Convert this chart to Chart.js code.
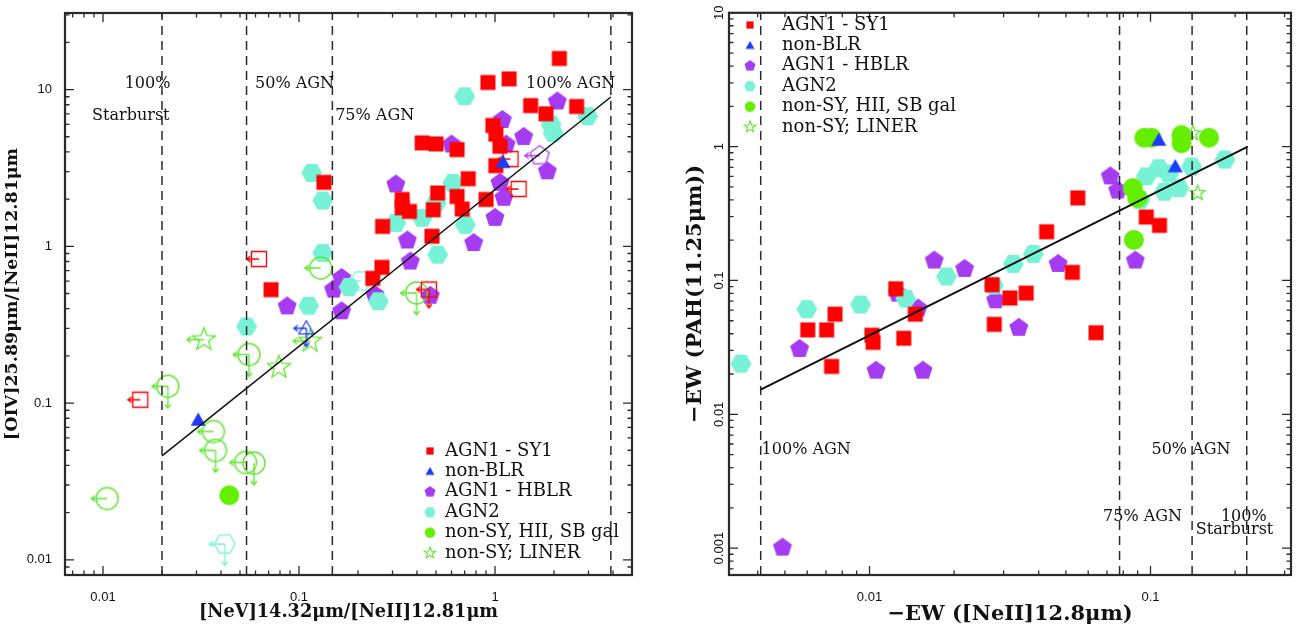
<!DOCTYPE html>
<html>
<head>
<meta charset="utf-8">
<script src="https://cdn.jsdelivr.net/npm/chart.js@4.4.1/dist/chart.umd.min.js"></script>
<style>
  html, body { margin: 0; padding: 0; background: #fff; }
  #wrap { position: relative; width: 1300px; height: 628px; }
  canvas { position: absolute; top: 0; }
  #c1 { left: 0; }
  #c2 { left: 650px; }
</style>
</head>
<body>
<div id="wrap">
  <canvas id="c1" width="650" height="628"></canvas>
  <canvas id="c2" width="650" height="628"></canvas>
</div>
<script>
// ---- tick labels ----
const leftXTicks = [0.01, 0.1, 1];
const leftYTicks = [0.01, 0.1, 1, 10];
const rightXTicks = [0.01, 0.1];
const rightYTicks = [0.001, 0.01, 0.1, 1, 10];

const legendLabels = ['AGN1 - SY1', 'non-BLR', 'AGN1 - HBLR', 'AGN2', 'non-SY, HII, SB gal', 'non-SY; LINER'];

// ---- left panel: [NeV]/[NeII] vs [OIV]/[NeII] ----
const lSy1X = [2.13, 0.92, 1.18, 1.52, 1.82, 2.61, 0.975, 1.01, 1.06, 1.01, 0.425, 0.50, 0.64, 0.73, 0.51, 0.64, 0.90, 0.336, 0.336, 0.366, 0.484, 0.68, 0.267, 0.477, 0.134, 0.265, 0.238, 0.072];
const lSy1Y = [15.8, 11.1, 11.7, 7.9, 7.0, 7.8, 5.9, 5.2, 4.35, 3.27, 4.57, 4.5, 4.14, 2.70, 2.19, 2.08, 1.99, 1.99, 1.76, 1.67, 1.71, 1.73, 1.34, 1.16, 2.56, 0.734, 0.625, 0.529];
const lSy1LimX = [1.32, 1.2, 0.0625, 0.46, 0.0155];
const lSy1LimY = [2.32, 3.6, 0.83, 0.53, 0.105];
const lSy1Lim = ['L', 'L', 'L', 'LD', 'L'];

const lBlrX = [1.10, 0.0306];
const lBlrY = [3.44, 0.078];
const lBlrLimX = [0.109];
const lBlrLimY = [0.30];
const lBlrLim = ['LD'];

const lHblrX = [2.08, 1.09, 1.40, 1.14, 0.60, 1.85, 0.312, 1.06, 1.11, 1.0, 0.357, 0.778, 0.37, 0.165, 0.244, 0.468, 0.087, 0.165, 0.15];
const lHblrY = [8.4, 6.4, 4.99, 4.46, 4.46, 3.01, 2.48, 2.54, 2.04, 1.52, 1.09, 1.05, 0.80, 0.628, 0.49, 0.484, 0.414, 0.385, 0.53];
const lHblrLimX = [1.69];
const lHblrLimY = [3.79];
const lHblrLim = ['L'];

const lAgn2X = [0.70, 2.97, 1.93, 1.98, 0.116, 0.132, 0.61, 0.50, 0.312, 0.425, 0.706, 0.51, 0.132, 0.18, 0.112, 0.254, 0.054];
const lAgn2Y = [9.06, 6.76, 5.98, 5.29, 2.94, 1.96, 2.54, 1.89, 1.41, 1.52, 1.37, 0.885, 0.906, 0.55, 0.418, 0.446, 0.308];
const lAgn2LimX = [0.206, 0.0418];
const lAgn2LimY = [0.60, 0.0126];
const lAgn2Lim = ['L', 'LD'];

const lHiiX = [0.0441];
const lHiiY = [0.0258];
const lHiiLimX = [0.129, 0.398, 0.0556, 0.0214, 0.0366, 0.0375, 0.0534, 0.0589, 0.0105];
const lHiiLimY = [0.727, 0.504, 0.204, 0.128, 0.0659, 0.0499, 0.0418, 0.0414, 0.0246];
const lHiiLim = ['L', 'LD', 'LD', 'LD', 'L', 'LD', 'L', 'D', 'L'];

const lLinerX = [0.0327, 0.079, 0.114];
const lLinerY = [0.254, 0.169, 0.248];
const lLinerLim = ['L', '', 'L'];

const lFitX = [0.02, 3.9];
const lFitY = [0.046, 8.97];
const lDashX = [0.02, 0.054, 0.148, 3.9];

// ---- right panel: -EW([NeII]) vs -EW(PAH 11.25) ----
const rSy1X = [0.0551, 0.0427, 0.0966, 0.1076, 0.0527, 0.0273, 0.0316, 0.0361, 0.0124, 0.00754, 0.01455, 0.0278, 0.00603, 0.00704, 0.0102, 0.0103, 0.01324, 0.00733, 0.064];
const rSy1Y = [0.414, 0.231, 0.298, 0.258, 0.115, 0.0929, 0.074, 0.0805, 0.0867, 0.056, 0.056, 0.047, 0.0427, 0.0427, 0.039, 0.0345, 0.037, 0.0228, 0.0407];

const rBlrX = [0.107, 0.1225];
const rBlrY = [1.12, 0.71];

const rHblrX = [0.0719, 0.0764, 0.0883, 0.0469, 0.0218, 0.0170, 0.01259, 0.0149, 0.0281, 0.034, 0.00564, 0.01055, 0.0155, 0.0049];
const rHblrY = [0.6, 0.47, 0.141, 0.133, 0.122, 0.141, 0.0797, 0.0617, 0.0711, 0.0443, 0.0308, 0.0212, 0.0212, 0.00101];

const rAgn2X = [0.184, 0.14, 0.107, 0.0966, 0.112, 0.126, 0.0918, 0.116, 0.0383, 0.0325, 0.0188, 0.01346, 0.00929, 0.00598, 0.0276, 0.00349];
const rAgn2Y = [0.80, 0.71, 0.69, 0.60, 0.46, 0.49, 0.40, 0.63, 0.158, 0.133, 0.107, 0.0731, 0.066, 0.061, 0.0918, 0.0239];

const rHiiX = [0.1009, 0.095, 0.1288, 0.129, 0.1615, 0.0865, 0.0897, 0.0873];
const rHiiY = [1.166, 1.166, 1.22, 1.06, 1.166, 0.49, 0.414, 0.201];

const rLinerX = [0.1415, 0.147];
const rLinerY = [1.26, 0.45];

const rFitX = [0.0041, 0.222];
const rFitY = [0.0153, 1.0];
const rDashX = [0.0041, 0.0776, 0.1406, 0.22];

// ---- colours ----
const RED = '#ff0000', BLUE = '#1e3cf5', PURPLE = '#a63cf2', CYAN = '#78f2d6', GREEN = '#64ee00', LGREEN = '#62e632';

// ---- marker images ----
function shapePath(g, shape, cx, cy, r) {
  g.beginPath();
  if (shape === 'square') {
    g.rect(cx - r, cy - r, 2 * r, 2 * r);
  } else if (shape === 'circle') {
    g.arc(cx, cy, r, 0, Math.PI * 2);
  } else if (shape === 'triangle') {
    g.moveTo(cx, cy - r);
    g.lineTo(cx + r, cy + r * 0.75);
    g.lineTo(cx - r, cy + r * 0.75);
    g.closePath();
  } else {
    const n = shape === 'pentagon' ? 5 : shape === 'hexagon' ? 6 : 10;
    const a0 = shape === 'hexagon' ? 0 : -Math.PI / 2;
    for (let k = 0; k < n; k++) {
      const a = a0 + k * 2 * Math.PI / n;
      const rr = shape === 'star' && k % 2 ? r * 0.42 : r;
      const px = cx + rr * Math.cos(a), py = cy + rr * Math.sin(a);
      k ? g.lineTo(px, py) : g.moveTo(px, py);
    }
    g.closePath();
  }
}

const markerCache = {};
function marker(s) {
  const key = JSON.stringify(s);
  if (markerCache[key]) return markerCache[key];
  const L = s.left ? s.r + 5 : 0, D = s.down ? s.r + 11 : 0;
  const ext = Math.ceil(Math.max(s.r, L, D) + 3);
  const cv = document.createElement('canvas');
  cv.width = cv.height = ext * 2;
  const g = cv.getContext('2d');
  const c = ext;
  shapePath(g, s.shape, c, c, s.r);
  if (s.fill) { g.fillStyle = s.fill; g.fill(); }
  if (s.stroke) { g.strokeStyle = s.stroke; g.lineWidth = s.lw || 1.3; g.stroke(); }
  g.strokeStyle = s.stroke || s.fill;
  g.lineWidth = 1.3;
  if (L) {
    g.beginPath();
    g.moveTo(c, c); g.lineTo(c - L, c);
    g.moveTo(c - L + 4, c - 3); g.lineTo(c - L, c); g.lineTo(c - L + 4, c + 3);
    g.stroke();
  }
  if (D) {
    g.beginPath();
    g.moveTo(c, c); g.lineTo(c, c + D);
    g.moveTo(c - 3, c + D - 4); g.lineTo(c, c + D); g.lineTo(c + 3, c + D - 4);
    g.stroke();
  }
  markerCache[key] = cv;
  return cv;
}

const SPEC = {
  sy1: { shape: 'square', r: 7.5, fill: RED },
  sy1o: { shape: 'square', r: 7.5, stroke: RED, lw: 1.3 },
  blr: { shape: 'triangle', r: 7.5, fill: BLUE },
  blro: { shape: 'triangle', r: 7.5, stroke: BLUE, lw: 1.2 },
  hblr: { shape: 'pentagon', r: 10, fill: PURPLE },
  hblro: { shape: 'pentagon', r: 10, stroke: PURPLE, lw: 1.2 },
  agn2: { shape: 'hexagon', r: 10.5, fill: CYAN },
  agn2o: { shape: 'hexagon', r: 10.5, stroke: CYAN, lw: 1.3 },
  hii: { shape: 'circle', r: 10, fill: GREEN },
  hiio: { shape: 'circle', r: 11, stroke: LGREEN, lw: 1.4 },
  liner: { shape: 'star', r: 12, stroke: LGREEN, lw: 1.3 }
};
const legendSpecs = [
  { shape: 'square', r: 3.6, fill: RED },
  { shape: 'triangle', r: 4.5, fill: BLUE },
  { shape: 'pentagon', r: 5.8, fill: PURPLE },
  { shape: 'hexagon', r: 5.8, fill: CYAN },
  { shape: 'circle', r: 5.2, fill: GREEN },
  { shape: 'star', r: 6, stroke: LGREEN, lw: 1.1 }
];

function withLim(spec, lim) {
  return Object.assign({}, spec, { left: lim.includes('L'), down: lim.includes('D') });
}

const pts = (xs, ys) => xs.map((x, i) => ({ x, y: ys[i] }));

function markSet(xs, ys, spec, lims) {
  return {
    data: pts(xs, ys),
    pointStyle: lims ? lims.map(l => marker(withLim(spec, l))) : marker(spec),
    pointRadius: 8,
    showLine: false
  };
}
function lineSet(xs, ys, width) {
  return { data: pts(xs, ys), showLine: true, borderColor: '#111', borderWidth: width, pointRadius: 0, fill: false };
}
function dashSets(xs, ymin, ymax) {
  return xs.map(v => ({
    data: [{ x: v, y: ymin }, { x: v, y: ymax }],
    showLine: true, borderColor: '#2a2a2a', borderWidth: 1.5, borderDash: [9, 6], pointRadius: 0, fill: false
  }));
}

// ---- axis helpers ----
function logTicks(scale) {
  const lo = Math.floor(Math.log10(scale.min)), hi = Math.ceil(Math.log10(scale.max));
  const t = [];
  for (let e = lo; e <= hi; e++) {
    for (let m = 1; m <= 9; m++) {
      const v = m * Math.pow(10, e);
      if (v >= scale.min * 0.999 && v <= scale.max * 1.001) t.push({ value: v, major: m === 1 });
    }
  }
  scale.ticks = t;
}
function labeler(list) {
  return v => {
    const hit = list.find(t => Math.abs(Math.log10(t) - Math.log10(v)) < 1e-6);
    return hit === undefined ? '' : String(hit);
  };
}
const isDecade = v => Math.abs(Math.log10(v) - Math.round(Math.log10(v))) < 1e-6;

// ---- decorations: inward ticks, frame, rotated labels, notes, legend ----
const deco = {
  id: 'deco',
  afterDraw(chart, args, o) {
    const { ctx, chartArea: a, scales: { x, y } } = chart;
    ctx.save();
    ctx.strokeStyle = '#2a2a2a';
    ctx.lineWidth = 1.3;
    ctx.beginPath();
    x.ticks.forEach(t => {
      const p = x.getPixelForValue(t.value);
      if (p < a.left - 0.5 || p > a.right + 0.5) return;
      const len = isDecade(t.value) ? 9 : 4.5;
      ctx.moveTo(p, a.bottom); ctx.lineTo(p, a.bottom - len);
      ctx.moveTo(p, a.top); ctx.lineTo(p, a.top + len);
    });
    y.ticks.forEach(t => {
      const p = y.getPixelForValue(t.value);
      if (p < a.top - 0.5 || p > a.bottom + 0.5) return;
      const len = isDecade(t.value) ? 9 : 4.5;
      ctx.moveTo(a.left, p); ctx.lineTo(a.left + len, p);
      ctx.moveTo(a.right, p); ctx.lineTo(a.right - len, p);
    });
    ctx.stroke();
    ctx.lineWidth = 2.2;
    ctx.strokeRect(a.left, a.top, a.right - a.left, a.bottom - a.top);

    ctx.fillStyle = '#111';
    if (o.rotY) {
      ctx.font = '13px "Liberation Sans"';
      ctx.textAlign = 'center';
      ctx.textBaseline = 'middle';
      o.rotY.forEach(v => {
        ctx.save();
        ctx.translate(o.rotYx, y.getPixelForValue(v));
        ctx.rotate(-Math.PI / 2);
        ctx.fillText(String(v), 0, 0);
        ctx.restore();
      });
    }

    ctx.font = '16px "DejaVu Serif"';
    ctx.textAlign = 'left';
    ctx.textBaseline = 'middle';
    o.notes.forEach(n => ctx.fillText(n.t, x.getPixelForValue(n.x), y.getPixelForValue(n.y)));

    const lg = o.legend;
    ctx.font = '18px "DejaVu Serif"';
    legendLabels.forEach((label, i) => {
      const yy = lg.y0 + i * lg.dy;
      const m = marker(legendSpecs[i]);
      ctx.drawImage(m, lg.mx - m.width / 2, yy - m.height / 2);
      ctx.fillText(label, lg.tx, yy);
    });
    ctx.restore();
  }
};

Chart.defaults.font.family = '"Liberation Sans", sans-serif';
Chart.defaults.font.size = 13;
Chart.defaults.color = '#111';

function makeChart(el, cfg) {
  return new Chart(el, {
    type: 'scatter',
    data: { datasets: cfg.datasets },
    options: {
      responsive: false,
      animation: false,
      events: [],
      layout: { padding: { top: cfg.padTop, right: cfg.padRight, left: 0, bottom: 0 } },
      plugins: {
        legend: { display: false },
        tooltip: { enabled: false },
        deco: cfg.deco
      },
      scales: {
        x: {
          type: 'logarithmic', position: 'bottom', min: cfg.xMin, max: cfg.xMax, bounds: 'data',
          grid: { display: false }, border: { display: false },
          afterBuildTicks: logTicks,
          afterFit: s => { s.height = 53; },
          ticks: { autoSkip: false, maxRotation: 0, minRotation: 0, padding: 7, callback: labeler(cfg.xTicks) },
          title: { display: true, text: cfg.xTitle, font: { family: '"DejaVu Serif"', size: cfg.xTitleSize, weight: 'bold' }, padding: { top: 0, bottom: cfg.xTitlePad } }
        },
        y: {
          type: 'logarithmic', position: 'left', min: cfg.yMin, max: cfg.yMax, bounds: 'data',
          grid: { display: false }, border: { display: false },
          afterBuildTicks: logTicks,
          afterFit: s => { s.width = cfg.yWidth; },
          ticks: { autoSkip: false, padding: 5, callback: cfg.yRotated ? (() => '') : labeler(cfg.yTicks) },
          title: { display: true, text: cfg.yTitle, font: { family: '"DejaVu Serif"', size: cfg.yTitleSize, weight: 'bold' }, padding: { top: cfg.yTitlePad, bottom: 0 } }
        }
      }
    },
    plugins: [deco]
  });
}

const lYMin = 0.008, lYMax = 30.8;
makeChart(document.getElementById('c1'), {
  padTop: 13, padRight: 18, yWidth: 65,
  xMin: 0.0064, xMax: 5.0, yMin: lYMin, yMax: lYMax,
  xTicks: leftXTicks, yTicks: leftYTicks,
  xTitle: '[NeV]14.32μm/[NeII]12.81μm', xTitleSize: 17.7, xTitlePad: 5,
  yTitle: '[OIV]25.89μm/[NeII]12.81μm', yTitleSize: 17.5, yTitlePad: 2,
  datasets: [
    lineSet(lFitX, lFitY, 1.5),
    ...dashSets(lDashX, lYMin, lYMax),
    markSet(lBlrX, lBlrY, SPEC.blr),
    markSet(lBlrLimX, lBlrLimY, SPEC.blro, lBlrLim),
    markSet(lSy1X, lSy1Y, SPEC.sy1),
    markSet(lSy1LimX, lSy1LimY, SPEC.sy1o, lSy1Lim),
    markSet(lHiiX, lHiiY, SPEC.hii),
    markSet(lHiiLimX, lHiiLimY, SPEC.hiio, lHiiLim),
    markSet(lLinerX, lLinerY, SPEC.liner, lLinerLim),
    markSet(lAgn2X, lAgn2Y, SPEC.agn2),
    markSet(lAgn2LimX, lAgn2LimY, SPEC.agn2o, lAgn2Lim),
    markSet(lHblrX, lHblrY, SPEC.hblr),
    markSet(lHblrLimX, lHblrLimY, SPEC.hblro, lHblrLim)
  ],
  deco: {
    notes: [
      { t: '100%', x: 0.0129, y: 10.8 },
      { t: 'Starburst', x: 0.0088, y: 6.8 },
      { t: '50% AGN', x: 0.0597, y: 10.8 },
      { t: '75% AGN', x: 0.153, y: 6.8 },
      { t: '100% AGN', x: 1.44, y: 10.8 }
    ],
    legend: { mx: 430, tx: 445, y0: 451, dy: 20.4 }
  }
});

const rYMin = 0.00063, rYMax = 10;
makeChart(document.getElementById('c2'), {
  padTop: 9, padRight: 2, yWidth: 79,
  xMin: 0.003162, xMax: 0.3162, yMin: rYMin, yMax: rYMax,
  xTicks: rightXTicks, yTicks: rightYTicks, yRotated: true,
  xTitle: '−EW ([NeII]12.8μm)', xTitleSize: 21, xTitlePad: 1,
  yTitle: '−EW (PAH(11.25μm))', yTitleSize: 21, yTitlePad: 33,
  datasets: [
    lineSet(rFitX, rFitY, 2),
    ...dashSets(rDashX, rYMin, rYMax),
    markSet(rBlrX, rBlrY, SPEC.blr),
    markSet(rSy1X, rSy1Y, SPEC.sy1),
    markSet(rHiiX, rHiiY, SPEC.hii),
    markSet(rLinerX, rLinerY, Object.assign({}, SPEC.liner, { r: 8 })),
    markSet(rAgn2X, rAgn2Y, SPEC.agn2),
    markSet(rHblrX, rHblrY, SPEC.hblr)
  ],
  deco: {
    rotY: rightYTicks, rotYx: 69,
    notes: [
      { t: '100% AGN', x: 0.00413, y: 0.00545 },
      { t: '50% AGN', x: 0.1008, y: 0.00545 },
      { t: '75% AGN', x: 0.0678, y: 0.0017 },
      { t: '100%', x: 0.178, y: 0.0017 },
      { t: 'Starburst', x: 0.145, y: 0.00137 }
    ],
    legend: { mx: 100, tx: 132, y0: 25, dy: 20.4 }
  }
});
</script>
</body>
</html>
